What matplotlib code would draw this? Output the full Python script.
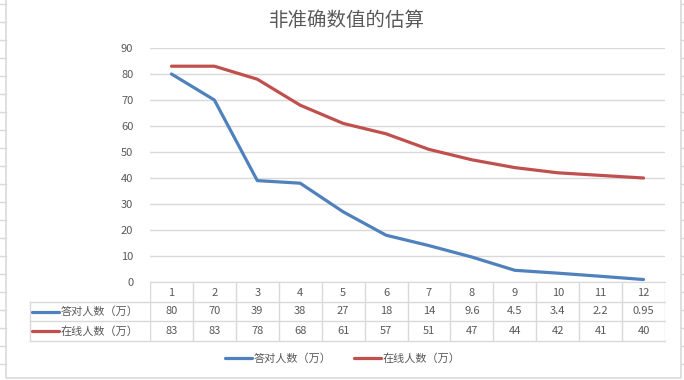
import matplotlib
matplotlib.use('Agg')
import matplotlib.pyplot as plt
from matplotlib.lines import Line2D

plt.rcParams['font.family'] = ['Noto Sans CJK SC', 'DejaVu Sans']

# data
title = '非准确数值的估算'
months = [1, 2, 3, 4, 5, 6, 7, 8, 9, 10, 11, 12]
correct = [80, 70, 39, 38, 27, 18, 14, 9.6, 4.5, 3.4, 2.2, 0.95]
online = [83, 83, 78, 68, 61, 57, 51, 47, 44, 42, 41, 40]
correct_labels = ['80', '70', '39', '38', '27', '18', '14', '9.6', '4.5', '3.4', '2.2', '0.95']
online_labels = ['83', '83', '78', '68', '61', '57', '51', '47', '44', '42', '41', '40']
series_names = ['答对人数（万）', '在线人数（万）']
yticks = [0, 10, 20, 30, 40, 50, 60, 70, 80, 90]

W, H = 684, 380
BLUE = '#4F81BD'
RED = '#C0504D'
GRID = '#D9D9D9'
TXT = '#595959'

fig = plt.figure(figsize=(W / 100, H / 100), dpi=100)


def px_axes(x0, y0, x1, y1):
    # pixel box (top-left origin) -> figure axes
    return fig.add_axes([x0 / W, 1 - y1 / H, (x1 - x0) / W, (y1 - y0) / H])


# spreadsheet background (row lines at the sides, chart border)
bg = fig.add_axes([0, 0, 1, 1])
bg.set_xlim(0, W)
bg.set_ylim(H, 0)
bg.axis('off')
for k in range(22):
    yy = 3.7 + 18 * k
    bg.plot([0, 6], [yy, yy], color=GRID, lw=1)
    bg.plot([681, W], [yy, yy], color=GRID, lw=1)
bg.plot([6, 6, 681, 681], [0, 378, 378, 0], color=GRID, lw=1.2)

# main plot
ax = px_axes(150, 48, 665, 282)
l1, = ax.plot(months, correct, color=BLUE, lw=2.3, solid_capstyle='round')
l2, = ax.plot(months, online, color=RED, lw=2.3, solid_capstyle='round')
ax.set_xlim(0.5, 12.5)
ax.set_ylim(0, 90)
ax.set_yticks(yticks)
ax.grid(axis='y', color=GRID, lw=1)
ax.set_axisbelow(True)
for s in ['top', 'right', 'left']:
    ax.spines[s].set_visible(False)
ax.spines['bottom'].set_color(GRID)
ax.set_xticks([])
ax.tick_params(axis='y', length=0, pad=12, labelsize=8, labelcolor=TXT)

fig.text(347 / W, 1 - 20 / H, title, ha='center', va='center',
         fontsize=14, color=TXT)

# data table under the axis
tab = px_axes(150, 282, 665, 341)
tab.set_xlim(0.5, 12.5)
tab.set_ylim(3, 0)
tab.axis('off')
left = 0.5 - 120 / 42.9
for x in [m + 0.5 for m in [0] + months]:
    tab.plot([x, x], [0, 3], color=GRID, lw=1)
tab.plot([left, left], [1, 3], color=GRID, lw=1, clip_on=False)
for y in [1, 2, 3]:
    tab.plot([left, 12.5], [y, y], color=GRID, lw=1, clip_on=False)

for m in months:
    tab.text(m, 0.55, str(m), ha='center', va='center', fontsize=8, color=TXT)
for m, a, b in zip(months, correct_labels, online_labels):
    tab.text(m, 1.5, a, ha='center', va='center', fontsize=8, color=TXT)
    tab.text(m, 2.5, b, ha='center', va='center', fontsize=8, color=TXT)

unit = 42.9
for row, (name, col) in enumerate(zip(series_names, [BLUE, RED])):
    x0 = left + 2 / unit
    x1 = left + 29 / unit
    tab.plot([x0, x1], [row + 1.5, row + 1.5], color=col, lw=2.3, clip_on=False,
             solid_capstyle='round')
    tab.text(x1 + 2 / unit, row + 1.5, name, ha='left', va='center',
             fontsize=8, color=TXT, clip_on=False)

fig.legend([l1, l2], series_names, loc='center', bbox_to_anchor=(343 / W, 1 - 359 / H),
           ncol=2, frameon=False, fontsize=8, handlelength=2.4, handletextpad=0.2,
           columnspacing=2.0, labelcolor=TXT)

plt.savefig('out.png', dpi=100)
